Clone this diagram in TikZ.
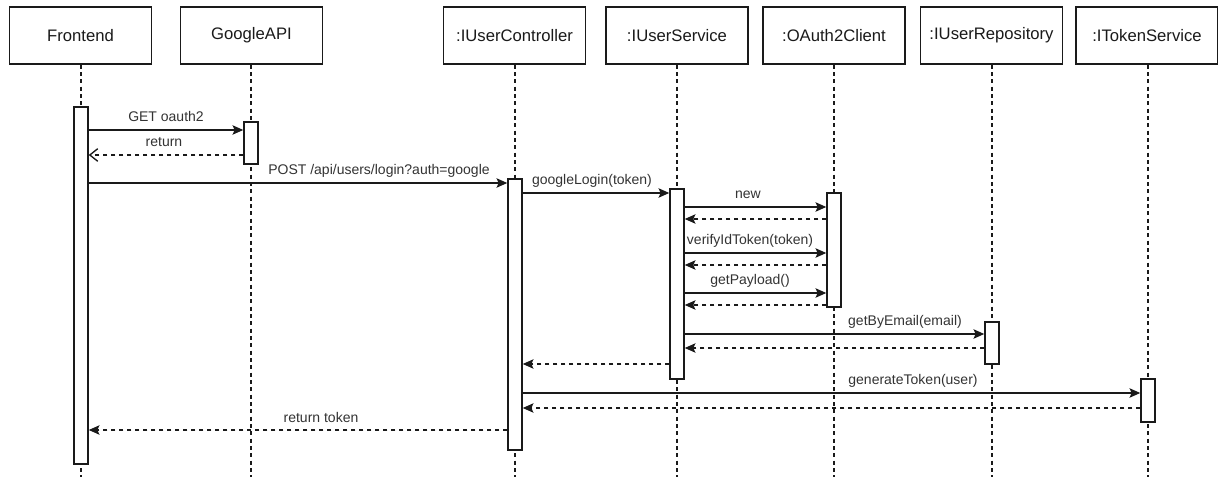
\documentclass[tikz,border=0pt]{standalone}
\usepackage{fontspec}
\setmainfont{Liberation Sans}
\usetikzlibrary{arrows.meta,fit}
\definecolor{ink}{HTML}{1A1A1A}
\definecolor{msgtext}{HTML}{333333}

\begin{document}
\begin{tikzpicture}[x=0.75pt,y=-0.75pt,
  lifehead/.style={draw=ink, line width=1.1pt, fill=white, minimum width=106.5pt,
    minimum height=42.75pt, inner sep=0pt, font=\fontsize{12.5}{15}\selectfont, text=ink},
  actbar/.style={draw=ink, line width=1.1pt, fill=white, inner sep=0pt},
  lifeline/.style={draw=ink, line width=0.9pt, dash pattern=on 3pt off 2.5pt},
  callmsg/.style={draw=ink, line width=1.1pt, -{Stealth[length=8pt,width=7pt,inset=1.5pt]}},
  replymsg/.style={draw=ink, line width=1.1pt, dash pattern=on 3.5pt off 2.5pt,
    -{Stealth[length=8pt,width=7pt,inset=1.5pt]}},
  openreply/.style={draw=ink, line width=1.1pt, dash pattern=on 3.5pt off 2.5pt,
    -{Straight Barb[length=6pt,width=9.5pt,line width=1pt]}},
  msglabel/.style={font=\fontsize{10.5}{12.6}\selectfont, text=msgtext, anchor=base, inner sep=0pt},
]
% canvas
\fill[white] (0,0) rectangle (1218,477);
\useasboundingbox (0,0) rectangle (1218,477);

% participants
\node[lifehead] (feH) at (80.5,35.5) {Frontend};
\node[lifehead] (gH)  at (251.5,35.5) {GoogleAPI};
\node[lifehead] (ucH) at (514.5,35.5) {:IUserController};
\node[lifehead] (usH) at (677,35.5) {:IUserService};
\node[lifehead] (ocH) at (834,35.5) {:OAuth2Client};
\node[lifehead] (urH) at (991.5,35.5) {:IUserRepository};
\node[lifehead] (tsH) at (1147,35.5) {:ITokenService};

% lifelines
\coordinate (feE) at (81,477);
\coordinate (gE)  at (251,477);
\coordinate (ucE) at (515,477);
\coordinate (usE) at (677,477);
\coordinate (ocE) at (834,477);
\coordinate (urE) at (992,477);
\coordinate (tsE) at (1148,477);
\draw[lifeline] (feE |- feH.south) -- (feE);
\draw[lifeline] (gE |- gH.south) -- (gE);
\draw[lifeline] (ucE |- ucH.south) -- (ucE);
\draw[lifeline] (usE |- usH.south) -- (usE);
\draw[lifeline] (ocE |- ocH.south) -- (ocE);
\draw[lifeline] (urE |- urH.south) -- (urE);
\draw[lifeline] (tsE |- tsH.south) -- (tsE);

% activation bars
\node[actbar, fit={(74,107)(88,464)}] (feA) {};
\node[actbar, fit={(244,122)(258,164)}] (gA) {};
\node[actbar, fit={(508,179)(522,450)}] (ucA) {};
\node[actbar, fit={(670,189)(684,379)}] (usA) {};
\node[actbar, fit={(827,193)(841,307)}] (ocA) {};
\node[actbar, fit={(985,322)(999,364)}] (urA) {};
\node[actbar, fit={(1141,379)(1155,422)}] (tsA) {};

% messages
\draw[callmsg]   (feA.east |- 0,130) -- (gA.west |- 0,130);
\draw[openreply] (gA.west |- 0,155) -- (feA.east |- 0,155);
\draw[callmsg]   (feA.east |- 0,183) -- (ucA.west |- 0,183);
\draw[callmsg]   (ucA.east |- 0,193) -- (usA.west |- 0,193);
\draw[callmsg]   (usA.east |- 0,207) -- (ocA.west |- 0,207);
\draw[replymsg]  (ocA.west |- 0,219) -- (usA.east |- 0,219);
\draw[callmsg]   (usA.east |- 0,253) -- (ocA.west |- 0,253);
\draw[replymsg]  (ocA.west |- 0,265) -- (usA.east |- 0,265);
\draw[callmsg]   (usA.east |- 0,293) -- (ocA.west |- 0,293);
\draw[replymsg]  (ocA.west |- 0,305) -- (usA.east |- 0,305);
\draw[callmsg]   (usA.east |- 0,334) -- (urA.west |- 0,334);
\draw[replymsg]  (urA.west |- 0,348) -- (usA.east |- 0,348);
\draw[replymsg]  (usA.west |- 0,364) -- (ucA.east |- 0,364);
\draw[callmsg]   (ucA.east |- 0,393) -- (tsA.west |- 0,393);
\draw[replymsg]  (tsA.west |- 0,408) -- (ucA.east |- 0,408);
\draw[replymsg]  (ucA.west |- 0,430) -- (feA.east |- 0,430);

% message labels
\node[msglabel] (l1)  at (166,122) {GET oauth2};
\node[msglabel] (l2)  at (164,147) {return};
\node[msglabel] (l3)  at (379,175) {POST /api/users/login?auth=google};
\node[msglabel] (l4)  at (592,185) {googleLogin(token)};
\node[msglabel] (l5)  at (748,199) {new};
\node[msglabel] (l6)  at (750,245) {verifyIdToken(token)};
\node[msglabel] (l7)  at (750,285) {getPayload()};
\node[msglabel] (l8)  at (905,326) {getByEmail(email)};
\node[msglabel] (l9)  at (913,385) {generateToken(user)};
\node[msglabel] (l10) at (321,422) {return token};
\end{tikzpicture}
\end{document}
